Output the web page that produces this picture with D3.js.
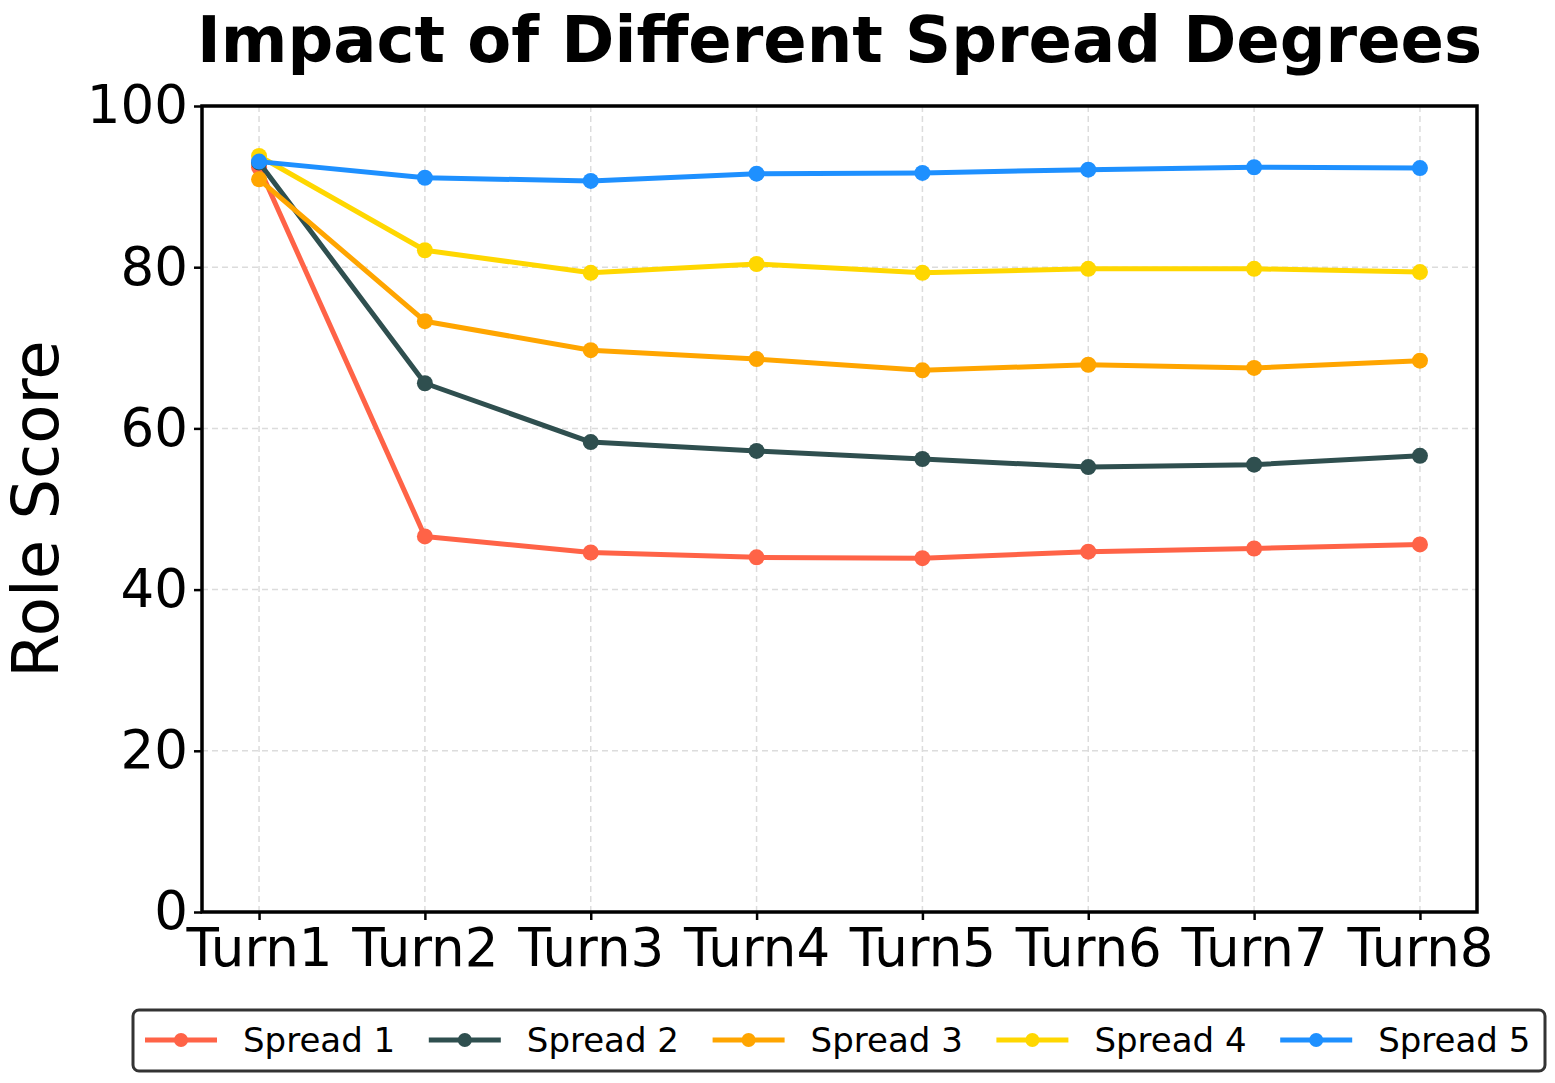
<!DOCTYPE html>
<html lang="en">
<head>
  <meta charset="UTF-8">
  <title>Impact of Different Spread Degrees</title>
  <script src="https://d3js.org/d3.v7.min.js"></script>
  <style>
    body { margin: 0; background: #fff; }
    text { font-family: "DejaVu Sans", sans-serif; fill: #000; }
    .grid line { stroke: #dcdcdc; stroke-width: 1.5; stroke-dasharray: 6 4; }
    .axis text { font-size: 53px; }
    .axis path { display: none; }
    .axis line { stroke: #000; stroke-width: 2.5; }
  </style>
</head>
<body>
  <svg id="chart" width="1555" height="1083"></svg>

  <script>
    // Data
    const turns = ["Turn1", "Turn2", "Turn3", "Turn4", "Turn5", "Turn6", "Turn7", "Turn8"];
    const spread1 = [92.4, 46.6, 44.6, 44.0, 43.9, 44.7, 45.1, 45.6];
    const spread2 = [93.0, 65.6, 58.3, 57.2, 56.2, 55.2, 55.5, 56.6];
    const spread3 = [90.9, 73.3, 69.7, 68.6, 67.2, 67.9, 67.5, 68.4];
    const spread4 = [93.8, 82.1, 79.3, 80.4, 79.3, 79.8, 79.8, 79.4];
    const spread5 = [93.1, 91.1, 90.7, 91.6, 91.7, 92.1, 92.4, 92.3];
    const seriesNames = ["Spread 1", "Spread 2", "Spread 3", "Spread 4", "Spread 5"];
    const colors = ["#FF6347", "#2F4F4F", "#FFA500", "#FFD700", "#1E90FF"];
    const yTicks = [0, 20, 40, 60, 80, 100];

    const series = [spread1, spread2, spread3, spread4, spread5].map((vals, i) => ({
      name: seriesNames[i],
      color: colors[i],
      values: vals.map((v, j) => ({ turn: turns[j], value: v }))
    }));

    // Dimensions
    const margin = { top: 106, right: 78, bottom: 171, left: 202 };
    const width = 1555 - margin.left - margin.right;
    const height = 1083 - margin.top - margin.bottom;

    const root = d3.select("#chart");
    const svg = root.append("g")
      .attr("transform", "translate(" + margin.left + "," + margin.top + ")");

    // Scales
    const xScale = d3.scalePoint()
      .domain(turns)
      .range([0, width])
      .padding(0.344);

    const yScale = d3.scaleLinear()
      .domain([0, 100])
      .range([height, 0]);

    // Grid lines
    svg.append("g")
      .attr("class", "grid")
      .selectAll("line.h")
      .data(yTicks)
      .enter()
      .append("line")
      .attr("x1", 0)
      .attr("x2", width)
      .attr("y1", (d) => yScale(d))
      .attr("y2", (d) => yScale(d));

    svg.append("g")
      .attr("class", "grid")
      .selectAll("line.v")
      .data(turns)
      .enter()
      .append("line")
      .attr("x1", (d) => xScale(d))
      .attr("x2", (d) => xScale(d))
      .attr("y1", 0)
      .attr("y2", height);

    // Lines and markers
    const line = d3.line()
      .x((d) => xScale(d.turn))
      .y((d) => yScale(d.value));

    series.forEach((s) => {
      svg.append("path")
        .datum(s.values)
        .attr("fill", "none")
        .attr("stroke", s.color)
        .attr("stroke-width", 5)
        .attr("stroke-linejoin", "round")
        .attr("d", line);

      svg.selectAll(null)
        .data(s.values)
        .enter()
        .append("circle")
        .attr("cx", (d) => xScale(d.turn))
        .attr("cy", (d) => yScale(d.value))
        .attr("r", 8)
        .attr("fill", s.color);
    });

    // Axes
    svg.append("g")
      .attr("class", "axis")
      .attr("transform", "translate(0," + height + ")")
      .call(d3.axisBottom(xScale).tickSize(8).tickPadding(8));

    svg.append("g")
      .attr("class", "axis")
      .call(d3.axisLeft(yScale).tickValues(yTicks).tickSize(8).tickPadding(6));

    // Frame
    svg.append("rect")
      .attr("x", 0)
      .attr("y", 0)
      .attr("width", width)
      .attr("height", height)
      .attr("fill", "none")
      .attr("stroke", "#000")
      .attr("stroke-width", 3.5);

    // Title
    root.append("text")
      .attr("x", margin.left + width / 2)
      .attr("y", 62)
      .attr("text-anchor", "middle")
      .style("font-size", "64px")
      .style("font-weight", "bold")
      .text("Impact of Different Spread Degrees");

    // Y axis label
    root.append("text")
      .attr("transform", "rotate(-90)")
      .attr("x", -(margin.top + height / 2))
      .attr("y", 58)
      .attr("text-anchor", "middle")
      .style("font-size", "64px")
      .text("Role Score");

    // Legend
    const legend = root.append("g");
    legend.append("rect")
      .attr("x", 133)
      .attr("y", 1010)
      .attr("width", 1412)
      .attr("height", 61)
      .attr("rx", 6)
      .attr("fill", "#fff")
      .attr("stroke", "#333")
      .attr("stroke-width", 3);

    const entry = legend.selectAll("g.entry")
      .data(series)
      .enter()
      .append("g")
      .attr("transform", (d, i) => "translate(" + (145 + i * 283.8) + ",1040)");

    entry.append("line")
      .attr("x1", 0)
      .attr("x2", 72)
      .attr("stroke", (d) => d.color)
      .attr("stroke-width", 5);

    entry.append("circle")
      .attr("cx", 36)
      .attr("r", 7)
      .attr("fill", (d) => d.color);

    entry.append("text")
      .attr("x", 98)
      .attr("dy", "0.35em")
      .style("font-size", "34px")
      .text((d) => d.name);
  </script>
</body>
</html>
